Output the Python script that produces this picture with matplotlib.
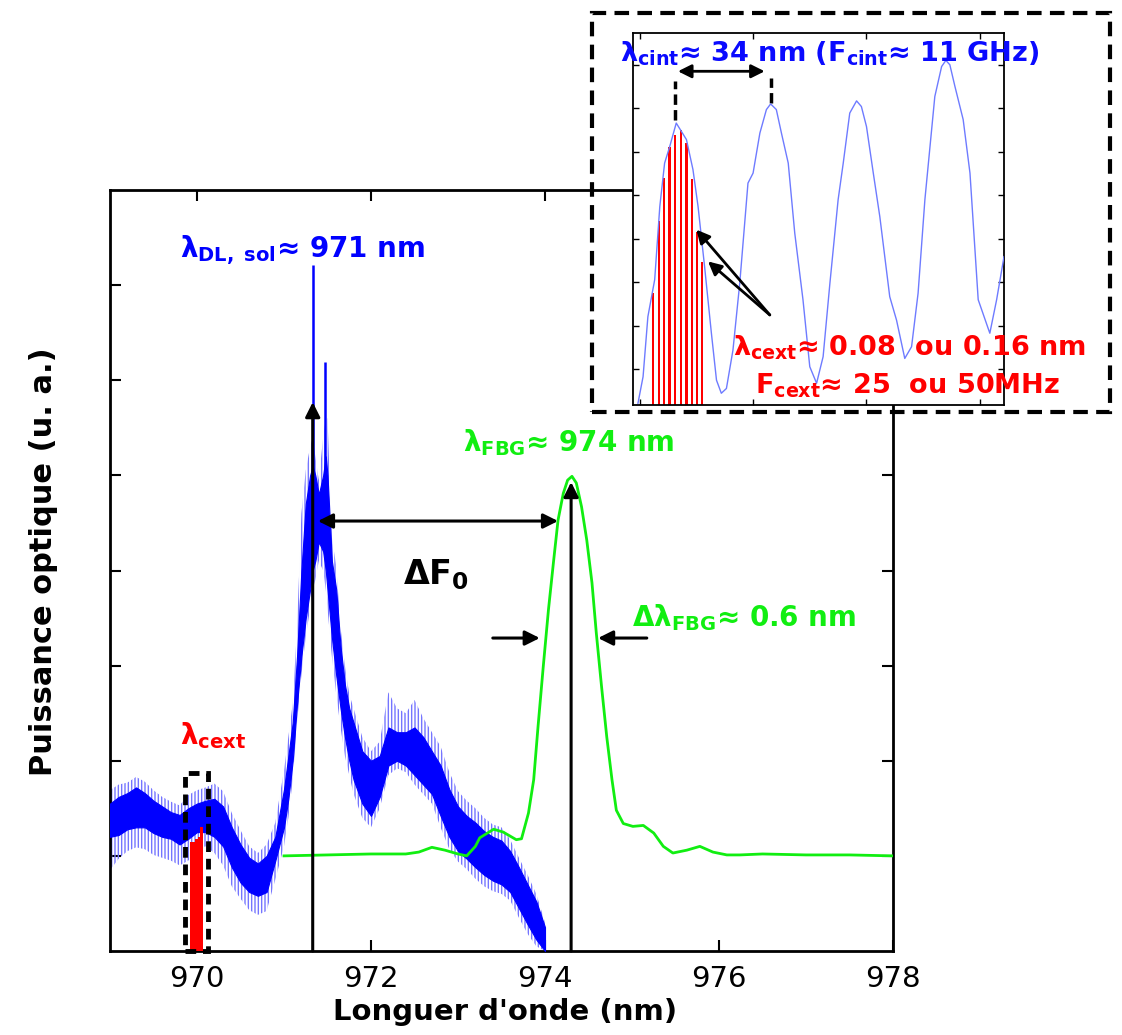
import matplotlib.pyplot as plt
from matplotlib.patches import Rectangle

plt.rcParams['font.family'] = 'DejaVu Sans'
plt.rcParams['mathtext.fontset'] = 'dejavusans'
plt.rcParams['hatch.linewidth'] = 1.0

# laser diode spectrum (outer envelope of the fast fringes and the dense core)
blue_wl = [969.0, 969.1, 969.2, 969.3, 969.4, 969.5, 969.6, 969.7, 969.8, 969.9,
           970.0, 970.1, 970.2, 970.3, 970.4, 970.5, 970.6, 970.7, 970.8, 970.9,
           971.0, 971.05, 971.1, 971.15, 971.2, 971.25, 971.3, 971.33, 971.36, 971.4,
           971.45, 971.48, 971.5, 971.55, 971.6, 971.65, 971.7, 971.75, 971.8, 971.9,
           972.0, 972.1, 972.2, 972.3, 972.4, 972.5, 972.6, 972.7, 972.8, 972.9,
           973.0, 973.1, 973.2, 973.3, 973.4, 973.5, 973.6, 973.7, 973.8, 973.9, 974.0]
blue_hi = [1.69, 1.75, 1.77, 1.83, 1.78, 1.69, 1.62, 1.57, 1.53, 1.64,
           1.69, 1.72, 1.76, 1.68, 1.45, 1.27, 1.10, 1.03, 1.12, 1.35,
           1.90, 2.25, 2.60, 3.40, 4.60, 5.05, 5.30, 5.40, 5.20, 4.95,
           5.40, 5.60, 5.60, 4.35, 4.05, 3.40, 3.00, 2.70, 2.55, 2.25,
           2.10, 2.20, 2.72, 2.55, 2.50, 2.64, 2.45, 2.30, 2.15, 1.88,
           1.68, 1.58, 1.50, 1.40, 1.33, 1.30, 1.17, 0.98, 0.80, 0.60, 0.30]
blue_lo = [0.85, 0.97, 1.05, 1.09, 1.07, 1.01, 0.98, 0.95, 0.90, 0.95,
           1.08, 1.10, 1.03, 0.90, 0.68, 0.55, 0.43, 0.38, 0.42, 0.75,
           1.10, 1.40, 1.80, 2.40, 2.90, 3.30, 3.60, 3.80, 3.90, 4.10,
           4.00, 3.80, 3.60, 3.10, 2.70, 2.35, 2.05, 1.85, 1.65, 1.40,
           1.30, 1.50, 1.85, 1.92, 1.88, 1.75, 1.65, 1.55, 1.30, 1.07,
           0.94, 0.86, 0.76, 0.68, 0.63, 0.60, 0.53, 0.35, 0.18, 0.05, 0.00]
core_hi = [1.55, 1.62, 1.66, 1.72, 1.66, 1.58, 1.52, 1.46, 1.43, 1.50,
           1.55, 1.58, 1.60, 1.52, 1.30, 1.12, 0.98, 0.92, 1.00, 1.20,
           1.70, 2.05, 2.40, 3.10, 4.00, 4.70, 5.00, 5.10, 5.00, 4.80,
           5.00, 5.20, 5.00, 4.10, 3.80, 3.20, 2.80, 2.55, 2.40, 2.10,
           2.00, 2.05, 2.35, 2.30, 2.30, 2.35, 2.25, 2.10, 1.95, 1.70,
           1.52, 1.42, 1.35, 1.26, 1.20, 1.16, 1.05, 0.88, 0.70, 0.52, 0.25]
core_lo = [1.20, 1.22, 1.28, 1.30, 1.30, 1.24, 1.20, 1.18, 1.12, 1.18,
           1.25, 1.25, 1.20, 1.10, 0.88, 0.72, 0.62, 0.58, 0.62, 0.95,
           1.30, 1.60, 2.00, 2.60, 3.10, 3.50, 3.80, 4.00, 4.10, 4.30,
           4.20, 4.00, 3.80, 3.30, 2.90, 2.55, 2.25, 2.00, 1.80, 1.55,
           1.42, 1.62, 1.95, 2.00, 1.95, 1.85, 1.75, 1.65, 1.42, 1.20,
           1.05, 0.97, 0.88, 0.80, 0.74, 0.70, 0.62, 0.45, 0.28, 0.12, 0.00]
spike_wl = [971.33, 971.47]
spike_base = [5.0, 5.0]
spike_top = [7.21, 6.19]

# fibre Bragg grating reflection
green_wl = [971.0, 971.5, 972.0, 972.4, 972.55, 972.7, 972.85, 973.0, 973.1, 973.2,
            973.25, 973.41, 973.52, 973.67, 973.73, 973.81, 973.87, 973.92, 973.98, 974.04,
            974.10, 974.15, 974.21, 974.26, 974.31, 974.36, 974.42, 974.48, 974.54, 974.59,
            974.65, 974.71, 974.77, 974.82, 974.90, 975.01, 975.13, 975.25, 975.36, 975.47,
            975.63, 975.78, 975.93, 976.09, 976.24, 976.5, 977.0, 977.5, 978.0]
green_p = [1.00, 1.01, 1.02, 1.02, 1.04, 1.09, 1.06, 1.02, 1.00, 1.10,
           1.19, 1.28, 1.25, 1.17, 1.18, 1.45, 1.80, 2.36, 2.99, 3.59,
           4.11, 4.53, 4.81, 4.95, 4.99, 4.92, 4.67, 4.32, 3.87, 3.34,
           2.78, 2.25, 1.80, 1.48, 1.34, 1.31, 1.32, 1.24, 1.10, 1.03,
           1.06, 1.10, 1.04, 1.01, 1.01, 1.02, 1.01, 1.01, 1.00]

# external cavity modes selected near 970 nm
red_wl = [969.935, 969.965, 969.995, 970.025, 970.055]
red_h = [1.15, 1.15, 1.18, 1.20, 1.30]

# zoom on one internal cavity period
ins_x = [-0.6, 1.2, 2.9, 5.3, 7.1, 8.8, 10.6, 12.9, 14.7, 16.5, 18.8, 20.6, 22.9, 25.3,
         27.1, 28.8, 30.6, 32.9, 35.3, 38.2, 40.0, 42.4, 44.7, 46.2, 48.2, 50.0, 52.4,
         54.7, 57.6, 60.0, 62.4, 64.7, 67.1, 70.0, 71.8, 74.1, 76.5, 78.2, 80.0, 82.4,
         84.7, 88.2, 90.6, 93.5, 95.9, 98.2, 100.6, 102.4, 104.1, 106.5, 108.0, 109.4,
         111.2, 114.1, 116.5, 119.4, 123.5, 125.9, 128.5]
ins_y = [0.22, 0.83, 2.21, 3.06, 4.74, 5.74, 6.12, 6.66, 6.47, 6.28, 5.59, 4.74, 3.36, 1.83,
         0.75, 0.45, 0.56, 1.44, 2.98, 5.28, 5.51, 6.43, 6.97, 7.10, 6.97, 6.43, 5.74,
         4.13, 2.60, 1.06, 0.68, 1.29, 2.98, 4.90, 5.74, 6.89, 7.17, 7.04, 6.58, 5.51,
         4.51, 2.67, 2.13, 1.25, 1.52, 2.75, 4.90, 6.12, 7.27, 7.96, 8.10, 8.00,
         7.50, 6.74, 5.51, 2.60, 1.83, 2.60, 3.59]
ins_bar_x = [4.7, 6.7, 8.5, 10.5, 12.5, 14.6, 16.5, 18.5, 20.2, 22.1]
ins_bar_h = [2.75, 4.40, 5.39, 6.12, 6.39, 6.49, 6.21, 5.38, 4.15, 3.46]

xticks = [970, 972, 974, 976, 978]

W, H = 1122, 1035


def fx(px):
    return px / W


def fy(py):
    return 1 - py / H


fig = plt.figure(figsize=(11.22, 10.35), dpi=100)
ax = fig.add_axes([fx(110), fy(951), fx(893) - fx(110), fy(190) - fy(951)])

ax.fill_between(blue_wl, blue_lo, blue_hi, facecolor='none', edgecolor='#7575ff',
                hatch='|||||', linewidth=0, zorder=2)
ax.fill_between(blue_wl, core_lo, core_hi, color='#0000ff', linewidth=0.8, zorder=3)
ax.vlines(spike_wl, spike_base, spike_top, color='#0000ff', lw=1.8, zorder=3)
ax.bar(red_wl, red_h, width=0.03, color='#ff0000', linewidth=0, zorder=4)
ax.plot(green_wl, green_p, color='#11ee11', lw=2, zorder=5)

ax.add_patch(Rectangle((969.86, 0), 0.27, 1.87, fill=False, ec='k', lw=3.5,
                       ls=(0, (2.2, 1.4)), zorder=6, clip_on=False))

arrow = dict(arrowstyle='-|>', color='k', lw=2.2, mutation_scale=22, shrinkA=0, shrinkB=0)
ax.annotate('', xy=(971.33, 5.77), xytext=(971.33, 0), arrowprops=arrow, zorder=7)
ax.annotate('', xy=(974.3, 4.93), xytext=(974.3, 0), arrowprops=arrow, zorder=7)
ax.annotate('', xy=(974.15, 4.52), xytext=(971.39, 4.52),
            arrowprops=dict(arrow, arrowstyle='<|-|>'), zorder=7)
ax.annotate('', xy=(973.94, 3.29), xytext=(973.40, 3.29), arrowprops=arrow, zorder=7)
ax.annotate('', xy=(974.61, 3.29), xytext=(975.17, 3.29), arrowprops=arrow, zorder=7)

ax.text(969.8, 7.29, r'λ$_{\mathbf{DL,\ sol}}$≈ 971 nm', color='#0000ff',
        fontsize=20, fontweight='bold', va='baseline')
ax.text(973.06, 5.25, r'λ$_{\mathbf{FBG}}$≈ 974 nm', color='#11ee11',
        fontsize=20, fontweight='bold', va='baseline')
ax.text(975.0, 3.41, r'Δλ$_{\mathbf{FBG}}$≈ 0.6 nm', color='#11ee11',
        fontsize=20, fontweight='bold', va='baseline')
ax.text(972.37, 3.85, r'ΔF$_{\mathbf{0}}$', color='k',
        fontsize=24, fontweight='bold', va='baseline')
ax.text(969.8, 2.17, r'λ$_{\mathbf{cext}}$', color='#ff0000',
        fontsize=20, fontweight='bold', va='baseline')

ax.set_xlim(969, 978)
ax.set_ylim(0, 8)
ax.set_xticks(xticks)
ax.set_yticks(range(1, 8))
ax.tick_params(direction='in', length=8, width=1.5, top=True, right=True,
               labelsize=21, pad=10, labelleft=False)
for s in ax.spines.values():
    s.set_linewidth(2)

ax.set_xlabel("Longuer d'onde (nm)", fontsize=21, fontweight='bold')
ax.xaxis.set_label_coords(0.505, -0.062)
ax.set_ylabel('Puissance optique (u. a.)', fontsize=22, fontweight='bold')
ax.yaxis.set_label_coords(-0.066, 0.511)

# inset
ins = fig.add_axes([fx(633), fy(405), fx(1004) - fx(633), fy(33) - fy(405)])
ins.bar(ins_bar_x, ins_bar_h, width=0.8, color='#ff0000', linewidth=0, zorder=2)
ins.plot(ins_x, ins_y, color='#6e7bff', lw=1, zorder=3)
ins.plot([12.6, 12.6], [6.74, 7.62], color='k', ls=(0, (3, 1.5)), lw=2.5, clip_on=False)
ins.plot([46.2, 46.2], [7.12, 7.69], color='k', ls=(0, (3, 1.5)), lw=2.5, clip_on=False)
iarrow = dict(arrowstyle='<|-|>', color='k', lw=2, mutation_scale=20, shrinkA=0, shrinkB=0)
ins.annotate('', xy=(44.1, 7.85), xytext=(13.5, 7.85), arrowprops=iarrow,
             annotation_clip=False)
iarrow1 = dict(iarrow, arrowstyle='-|>')
ins.annotate('', xy=(20.0, 4.21), xytext=(45.9, 2.25), arrowprops=iarrow1)
ins.annotate('', xy=(24.1, 3.48), xytext=(45.9, 2.25), arrowprops=iarrow1)
ins.set_xlim(-2.35, 128.5)
ins.set_ylim(0.18, 8.73)
ins.set_xticks([0, 40, 80, 120])
ins.set_yticks(range(1, 9))
ins.tick_params(direction='in', length=4, width=1, top=True, right=True,
                labelleft=False, labelbottom=False)
for s in ins.spines.values():
    s.set_linewidth(1.3)

fig.text(fx(620), fy(62), r'λ$_{\mathbf{cint}}$≈ 34 nm (F$_{\mathbf{cint}}$≈ 11 GHz)',
         color='#0a0aff', fontsize=19.5, fontweight='bold', va='baseline', zorder=10)
fig.text(fx(733), fy(355), r'λ$_{\mathbf{cext}}$≈ 0.08  ou 0.16 nm',
         color='#ff0000', fontsize=19.5, fontweight='bold', va='baseline', zorder=10)
fig.text(fx(755), fy(393), r'F$_{\mathbf{cext}}$≈ 25  ou 50MHz',
         color='#ff0000', fontsize=19.5, fontweight='bold', va='baseline', zorder=10)

fig.add_artist(Rectangle((fx(592), fy(412)), fx(1110) - fx(592), fy(13) - fy(412),
                         transform=fig.transFigure, fill=False, ec='k', lw=3,
                         ls=(0, (3.5, 2)), zorder=10))

fig.savefig('out.png', dpi=100)
